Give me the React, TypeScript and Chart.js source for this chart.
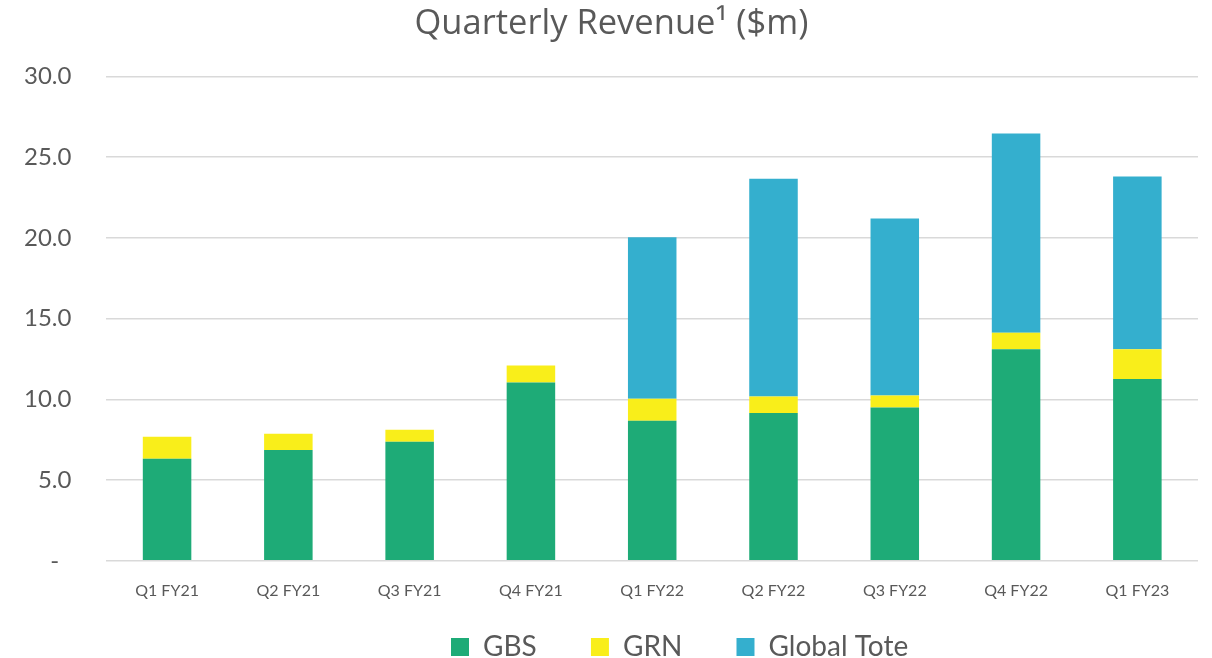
import React, { useEffect, useRef } from "react";
import { Chart, registerables } from "chart.js";

Chart.register(...registerables);

const categories = ["Q1 FY21", "Q2 FY21", "Q3 FY21", "Q4 FY21", "Q1 FY22", "Q2 FY22", "Q3 FY22", "Q4 FY22", "Q1 FY23"];
const gbs = [6.32, 6.86, 7.38, 11.05, 8.68, 9.15, 9.5, 13.1, 11.26];
const grn = [1.37, 1.01, 0.74, 1.05, 1.36, 1.02, 0.73, 1.03, 1.84];
const globalTote = [0, 0, 0, 0, 10.0, 13.49, 10.97, 12.34, 10.7];
const yTicks = [0, 5, 10, 15, 20, 25, 30];
const titleText = "Quarterly Revenue\u00B9 ($m)";

const GREY = "#595959";
const FONT = "Lato, 'Open Sans', sans-serif";

export default function App() {
  const ref = useRef<HTMLCanvasElement | null>(null);
  useEffect(() => {
    if (!ref.current) return;
    const chart = new Chart(ref.current, {
      type: "bar",
      data: {
        labels: categories,
        datasets: [
          { label: "GBS", data: gbs, backgroundColor: "#1EAB77" },
          { label: "GRN", data: grn, backgroundColor: "#F9EE1A" },
          { label: "Global Tote", data: globalTote, backgroundColor: "#34AFCE" },
        ],
      },
      options: {
        animation: false,
        responsive: false,
        maintainAspectRatio: false,
        layout: { padding: { left: -11, right: 14, top: 0, bottom: -13 } },
        datasets: { bar: { barPercentage: 0.4, categoryPercentage: 1 } },
        plugins: {
          title: {
            display: true,
            text: "    " + titleText,
            color: GREY,
            font: { family: "'Open Sans', sans-serif", size: 34.5, weight: "normal", lineHeight: 1.2 },
            padding: { top: 3, bottom: 32 },
          },
          legend: {
            position: "bottom",
            labels: {
              color: GREY,
              font: { family: FONT, size: 28, lineHeight: 1 },
              boxWidth: 18,
              boxHeight: 18,
              padding: 4,
              generateLabels: (c: any) => {
                const items = Chart.defaults.plugins.legend.labels.generateLabels(c);
                const spacer = {
                  text: "                   ",
                  fillStyle: "rgba(0,0,0,0)",
                  strokeStyle: "rgba(0,0,0,0)",
                  lineWidth: 0,
                  hidden: false,
                  datasetIndex: -1,
                };
                const real = items.map((it: any, i: number) => ({
                  ...it,
                  text: i < items.length - 1 ? it.text + "       " : it.text,
                  lineWidth: 0,
                }));
                return [spacer, ...real];
              },
            },
            onClick: () => {},
          },
          tooltip: { enabled: false },
        },
        scales: {
          x: {
            stacked: true,
            grid: { display: false, drawTicks: false },
            border: { display: false },
            afterFit: (s: any) => {
              s.height += 9;
            },
            ticks: {
              color: GREY,
              font: { family: FONT, size: 16 },
              padding: 20,
              maxRotation: 0,
              autoSkip: false,
            },
          },
          y: {
            stacked: true,
            min: 0,
            max: 30,
            afterBuildTicks: (s: any) => {
              s.ticks = yTicks.map((v) => ({ value: v }));
            },
            grid: { color: "#D9D9D9", lineWidth: 1.5, drawTicks: false },
            border: { display: false },
            ticks: {
              color: GREY,
              font: { family: FONT, size: 24 },
              padding: 35,
              callback: (v: any) => (Number(v) === 0 ? "-  " : Number(v).toFixed(1)),
            },
          },
        },
      },
    });
    return () => chart.destroy();
  }, []);
  return (
    <div style={{ position: "fixed", left: 0, top: 0, width: 1212, height: 658, background: "#fff" }}>
      <canvas ref={ref} width={1212} height={658} style={{ display: "block" }} />
    </div>
  );
}
